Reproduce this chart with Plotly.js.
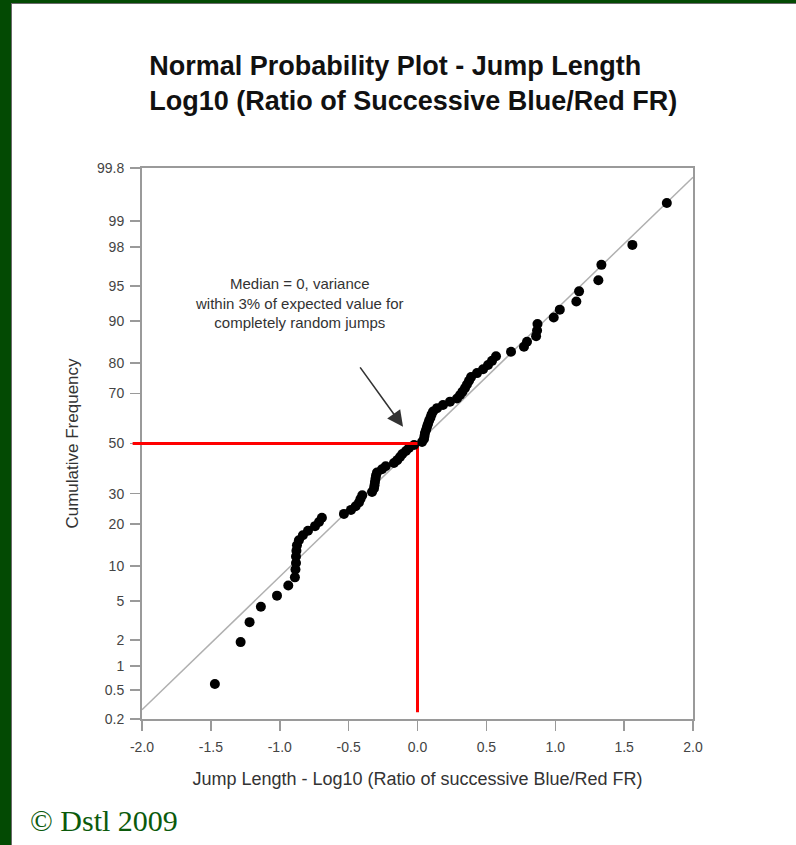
<!DOCTYPE html>
<html><head><meta charset="utf-8">
<script src="https://cdn.plot.ly/plotly-3.0.1.min.js"></script>
<style>
html,body{margin:0;padding:0;background:#034a03;width:796px;height:845px;overflow:hidden;}
#wrap{position:absolute;left:11px;top:3px;width:785px;height:842px;background:#fff;border-left:1px solid #6a6a6a;border-top:1px solid #6a6a6a;}
#chart{position:absolute;left:0;top:0;width:784px;height:841px;}
#copy{position:absolute;left:30px;top:804px;font-family:'Liberation Serif','Times New Roman',serif;font-size:30px;color:#0b5a0b;white-space:nowrap;line-height:34px;}
</style></head>
<body>
<div id="wrap"><div id="chart"></div></div>
<div id="copy">© Dstl 2009</div>
<script>
// ---- data ----
var jumpLength = [-1.471,-1.284,-1.219,-1.137,-1.020,-0.938,-0.890,-0.886,-0.882,-0.882,
  -0.879,-0.875,-0.861,-0.832,-0.795,-0.744,-0.715,-0.694,-0.534,-0.483,
  -0.449,-0.425,-0.414,-0.401,-0.330,-0.316,-0.312,-0.309,-0.305,-0.301,
  -0.294,-0.258,-0.231,-0.171,-0.147,-0.127,-0.110,-0.084,-0.062,-0.025,
  0.033,0.047,0.051,0.054,0.062,0.069,0.076,0.084,0.094,0.102,
  0.113,0.142,0.185,0.236,0.287,0.309,0.327,0.345,0.359,0.374,
  0.389,0.432,0.476,0.512,0.541,0.570,0.679,0.773,0.795,0.861,
  0.868,0.871,0.989,1.033,1.153,1.173,1.313,1.335,1.560,1.810];
var cumFreq = [0.6,1.9,3.1,4.4,5.6,6.9,8.1,9.4,10.6,11.9,
  13.1,14.4,15.6,16.9,18.1,19.4,20.6,21.9,23.1,24.4,
  25.6,26.9,28.1,29.4,30.6,31.9,33.1,34.4,35.6,36.9,
  38.1,39.4,40.6,41.9,43.1,44.4,45.6,46.9,48.1,49.4,
  50.6,51.9,53.1,54.4,55.6,56.9,58.1,59.4,60.6,61.9,
  63.1,64.4,65.6,66.9,68.1,69.4,70.6,71.9,73.1,74.4,
  75.6,76.9,78.1,79.4,80.6,81.9,83.1,84.4,85.6,86.9,
  88.1,89.4,90.6,91.9,93.1,94.4,95.6,96.9,98.1,99.4];
var refX = [-2.0, 2.0];
var refP = [0.27, 99.73];
var medianX = 0.0;
var medianP = 50;
var medianBottomP = 0.25;
var yTickProbs = [0.2,0.5,1,2,5,10,20,30,50,70,80,90,95,98,99,99.8];
var yTickText = ['0.2','0.5','1','2','5','10','20','30','50','70','80','90','95','98','99','99.8'];
var xTickVals = [-2.0,-1.5,-1.0,-0.5,0.0,0.5,1.0,1.5,2.0];
var xTickText = ['-2.0','-1.5','-1.0','-0.5','0.0','0.5','1.0','1.5','2.0'];
var annText = 'Median = 0, variance<br>within 3% of expected value for<br>completely random jumps';

// ---- probability (normal quantile) axis transform ----
function probit(pct){
  var p = pct/100;
  var a=[-3.969683028665376e+01,2.209460984245205e+02,-2.759285104469687e+02,1.383577518672690e+02,-3.066479806614716e+01,2.506628277459239e+00];
  var b=[-5.447609879822406e+01,1.615858368580409e+02,-1.556989798598866e+02,6.680131188771972e+01,-1.328068155288572e+01];
  var c=[-7.784894002430293e-03,-3.223964580411365e-01,-2.400758277161838e+00,-2.549732539343734e+00,4.374664141464968e+00,2.938163982698783e+00];
  var d=[7.784695709041462e-03,3.224671290700398e-01,2.445134137142996e+00,3.754408661907416e+00];
  var pl=0.02425, q, r;
  if(p<pl){q=Math.sqrt(-2*Math.log(p));return (((((c[0]*q+c[1])*q+c[2])*q+c[3])*q+c[4])*q+c[5])/((((d[0]*q+d[1])*q+d[2])*q+d[3])*q+1);}
  if(p<=1-pl){q=p-0.5;r=q*q;return (((((a[0]*r+a[1])*r+a[2])*r+a[3])*r+a[4])*r+a[5])*q/(((((b[0]*r+b[1])*r+b[2])*r+b[3])*r+b[4])*r+1);}
  q=Math.sqrt(-2*Math.log(1-p));return -(((((c[0]*q+c[1])*q+c[2])*q+c[3])*q+c[4])*q+c[5])/((((d[0]*q+d[1])*q+d[2])*q+d[3])*q+1);
}

var traces = [
  {x: refX, y: refP.map(probit), mode:'lines', line:{color:'#b0b0b0', width:1.5}, hoverinfo:'skip'},
  {x: [medianX, medianX], y: [probit(medianP), probit(medianBottomP)], mode:'lines', line:{color:'#ff0000', width:3}, hoverinfo:'skip'},
  {x: jumpLength, y: cumFreq.map(probit), mode:'markers', marker:{color:'#000', size:10}, cliponaxis:false}
];

var axisCommon = {showgrid:false, zeroline:false, showline:true, linecolor:'#9a9a9a', linewidth:2,
  mirror:true, ticks:'outside', ticklen:10, tickwidth:1.5, tickcolor:'#9a9a9a',
  tickfont:{size:14, color:'#444', family:'Liberation Sans, Arial, sans-serif'}};

var layout = {
  width:784, height:841,
  margin:{l:130, r:103, t:164, b:126},
  paper_bgcolor:'#fff', plot_bgcolor:'#fff',
  showlegend:false,
  font:{family:'Liberation Sans, Arial, sans-serif', color:'#333'},
  title:{text:'<b>Normal Probability Plot - Jump Length<br>Log10 (Ratio of Successive Blue/Red FR)</b>',
    xref:'container', yref:'container', x:0.175, xanchor:'left', y:0.916, yanchor:'top',
    font:{size:27, color:'#111', family:'Liberation Sans, Arial, sans-serif'}},
  xaxis: Object.assign({}, axisCommon, {range:[-2,2], tickmode:'array', tickvals:xTickVals, ticktext:xTickText,
    ticklabelstandoff:4,
    title:{text:'Jump Length - Log10 (Ratio of successive Blue/Red FR)', font:{size:18, color:'#333'}, standoff:19}}),
  yaxis: Object.assign({}, axisCommon, {range:[probit(0.2), probit(99.8)], tickmode:'array',
    tickvals:yTickProbs.map(probit), ticktext:yTickText, ticklabelstandoff:3,
    title:{text:'Cumulative Frequency', font:{size:17, color:'#333'}, standoff:14}}),
  shapes:[
    {type:'line', xref:'x domain', yref:'y', x0:-0.017, x1:0.5, y0:probit(medianP), y1:probit(medianP), line:{color:'#ff0000', width:3}}
  ],
  annotations:[
    {x:-0.86, y:probit(92.9), xref:'x', yref:'y', text:annText, showarrow:false, align:'center',
     font:{size:15, color:'#333'}},
    {x:-0.105, y:probit(56.9), xref:'x', yref:'y', ax:-44, ay:-61, text:'', showarrow:true,
     arrowhead:2, arrowsize:2, arrowwidth:1.6, arrowcolor:'#333'}
  ]
};

Plotly.newPlot('chart', traces, layout, {displayModeBar:false, staticPlot:true});
</script>
</body></html>
